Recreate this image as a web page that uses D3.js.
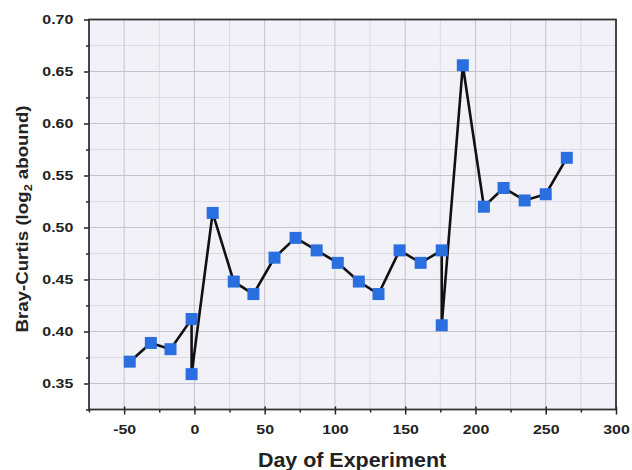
<!DOCTYPE html>
<html><head><meta charset="utf-8">
<script src="https://cdn.jsdelivr.net/npm/d3@7"></script>
<style>
html,body{margin:0;padding:0;background:#fff;}
text{font-family:"Liberation Sans",Arial,sans-serif;font-weight:bold;fill:#222;}
</style></head>
<body><svg id="c" width="632" height="470"></svg>
<script>
const days = [-46, -31, -17, -2, -2, 13, 28, 42, 57, 72, 87, 102, 117, 131, 146, 161, 176, 176, 191, 206, 220, 235, 250, 265];
const brayCurtis = [0.371, 0.389, 0.383, 0.412, 0.359, 0.514, 0.448, 0.436, 0.471, 0.490, 0.478, 0.466, 0.448, 0.436, 0.478, 0.466, 0.478, 0.406, 0.656, 0.520, 0.538, 0.526, 0.532, 0.567];
const xTicks = [-50, 0, 50, 100, 150, 200, 250, 300];
const xMinor = [-75, -25, 25, 75, 125, 175, 225, 275];
const yTicks = [0.35, 0.40, 0.45, 0.50, 0.55, 0.60, 0.65, 0.70];
const yMinor = [0.325, 0.375, 0.425, 0.475, 0.525, 0.575, 0.625, 0.675];
const xLabel = "Day of Experiment";

const svg = d3.select("#c");
const L = 89, R = 616, T = 19.5, B = 409.5;
const x = d3.scaleLinear().domain([-75, 300]).range([L, R]);
const y = d3.scaleLinear().domain([0.325, 0.70]).range([B, T]);

svg.append("rect").attr("x", L).attr("y", T).attr("width", R - L).attr("height", B - T).attr("fill", "#f3f1f8");

const g = svg.append("g");
g.selectAll(".gxm").data(xMinor.filter(d => d > -75)).join("line")
  .attr("x1", d => x(d)).attr("x2", d => x(d)).attr("y1", T).attr("y2", B)
  .attr("stroke", "#dcdae2").attr("stroke-width", 1);
g.selectAll(".gym").data(yMinor.filter(d => d > 0.325)).join("line")
  .attr("y1", d => y(d)).attr("y2", d => y(d)).attr("x1", L).attr("x2", R)
  .attr("stroke", "#dcdae2").attr("stroke-width", 1);
g.selectAll(".gx").data(xTicks.filter(d => d < 300)).join("line")
  .attr("x1", d => x(d)).attr("x2", d => x(d)).attr("y1", T).attr("y2", B)
  .attr("stroke", "#c4c2cb").attr("stroke-width", 1);
g.selectAll(".gy").data(yTicks.filter(d => d < 0.70)).join("line")
  .attr("y1", d => y(d)).attr("y2", d => y(d)).attr("x1", L).attr("x2", R)
  .attr("stroke", "#c4c2cb").attr("stroke-width", 1);

// axes
const xAxis = d3.axisBottom(x).tickValues(xTicks).tickSize(5).tickPadding(10).tickFormat(d => String(d));
const xa = svg.append("g").attr("transform", `translate(0,${B})`).call(xAxis);
const xam = svg.append("g").attr("transform", `translate(0,${B})`).call(d3.axisBottom(x).tickValues(xMinor).tickSize(3).tickFormat(""));
const yAxis = d3.axisLeft(y).tickValues(yTicks).tickSize(5).tickPadding(8).tickFormat(d => d.toFixed(2));
const ya = svg.append("g").attr("transform", `translate(${L},0)`).call(yAxis);
const yam = svg.append("g").attr("transform", `translate(${L},0)`).call(d3.axisLeft(y).tickValues(yMinor).tickSize(3).tickFormat(""));
[xa, xam, ya, yam].forEach(a => {
  a.select(".domain").remove();
  a.selectAll("line").attr("stroke", "#222").attr("stroke-width", 1.5);
  a.selectAll("text").attr("font-size", 13.5).attr("font-weight", "bold")
   .attr("font-family", "'Liberation Sans',Arial,sans-serif").attr("fill", "#222")
   .attr("transform", "scale(1.18,1)");
});
ya.selectAll(".tick text").attr("x", -15.7 / 1.18);
// inner part of major x ticks
xa.selectAll(".tick line").attr("y1", -3);

svg.append("rect").attr("x", L).attr("y", T).attr("width", R - L).attr("height", B - T)
  .attr("fill", "none").attr("stroke", "#333").attr("stroke-width", 1.8);

// line
const pts = days.map((d, i) => [d, brayCurtis[i]]);
svg.append("path").datum(pts)
  .attr("d", d3.line().x(d => x(d[0])).y(d => y(d[1])))
  .attr("fill", "none").attr("stroke", "#111").attr("stroke-width", 2.6).attr("stroke-linejoin", "miter");

const s = 12;
svg.selectAll(".pt").data(pts).join("rect")
  .attr("x", d => x(d[0]) - s / 2).attr("y", d => y(d[1]) - s / 2)
  .attr("width", s).attr("height", s).attr("fill", "#2a6fdf");

// titles
svg.append("text").attr("transform", "translate(352,467.3) scale(1.1,1)").attr("text-anchor", "middle")
  .attr("font-size", 19.5).text(xLabel);
const yt = svg.append("text").attr("transform", "translate(27.7,219) rotate(-90) scale(1.1,1)")
  .attr("text-anchor", "middle").attr("font-size", 17);
yt.append("tspan").text("Bray-Curtis (log");
yt.append("tspan").attr("font-size", 11.5).attr("dy", 4).text("2");
yt.append("tspan").attr("dy", -4).text(" abound)");
</script></body></html>
